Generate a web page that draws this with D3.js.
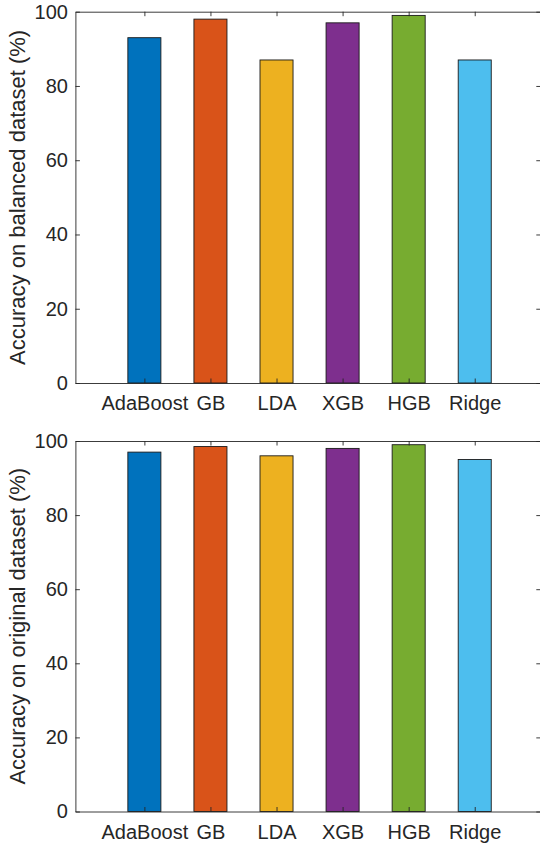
<!DOCTYPE html>
<html>
<head>
<meta charset="utf-8">
<script src="https://cdn.jsdelivr.net/npm/d3@7"></script>
<style>
  html, body { margin: 0; padding: 0; background: #fff; }
  svg { display: block; }
  text { font-family: "Liberation Sans", Arial, Helvetica, sans-serif; fill: #262626; }
</style>
</head>
<body>
<svg id="chart" width="540" height="846"></svg>
<script>
// Classifier names along the x axis
const models = ["AdaBoost", "GB", "LDA", "XGB", "HGB", "Ridge"];
// Accuracy (%) on the balanced dataset
const balancedAcc = [93, 98, 87, 97, 99, 87];
// Accuracy (%) on the original dataset
const originalAcc = [97, 98.5, 96, 98, 99, 95];
// Y tick values
const yTicks = [0, 20, 40, 60, 80, 100];
// Bar fill colours
const barColors = ["#0072BD", "#D95319", "#EDB120", "#7E2F8E", "#77AC30", "#4DBEEE"];

const svg = d3.select("#chart");
const axisColor = "#262626";

function panel(values, yLabel, top, bottom) {
  const left = 75.4, right = 540.8;
  const x = d3.scaleLinear().domain([-0.044, 7]).range([left, right]);
  const y = d3.scaleLinear().domain([0, 100]).range([bottom, top]);
  const g = svg.append("g");
  const idx = models.map((_, i) => i + 1);
  const bw = (x(1) - x(0)) * 0.5;

  // bars
  g.selectAll("rect.bar").data(values).join("rect")
    .attr("class", "bar")
    .attr("x", (d, i) => x(i + 1) - bw / 2)
    .attr("width", bw)
    .attr("y", d => y(d))
    .attr("height", d => y(0) - y(d))
    .attr("fill", (d, i) => barColors[i])
    .attr("stroke", "#1a1a1a")
    .attr("stroke-width", 0.9);

  // left axis (ticks inward)
  const yAxis = d3.axisLeft(y).tickValues(yTicks).tickSizeInner(-4.5).tickSizeOuter(0).tickPadding(7.5);
  const ya = g.append("g").attr("transform", `translate(${left},0)`).call(yAxis);
  ya.selectAll("text").style("font-size", "20px").attr("fill", axisColor);

  // bottom axis (ticks inward)
  const xAxis = d3.axisBottom(x).tickValues(idx).tickFormat(i => models[i - 1])
    .tickSizeInner(-4.5).tickSizeOuter(0).tickPadding(13);
  const xa = g.append("g").attr("transform", `translate(0,${bottom})`).call(xAxis);
  xa.selectAll("text").style("font-size", "20px").attr("fill", axisColor);

  // top and right box edges with mirrored ticks
  const ta = g.append("g").attr("transform", `translate(0,${top})`)
    .call(d3.axisTop(x).tickValues(idx).tickSizeInner(-4.5).tickSizeOuter(0).tickFormat(""));
  const ra = g.append("g").attr("transform", `translate(${right},0)`)
    .call(d3.axisRight(y).tickValues(yTicks).tickSizeInner(-4.5).tickSizeOuter(0).tickFormat(""));

  [ya, xa, ta, ra].forEach(a => {
    a.select(".domain").attr("stroke", axisColor).attr("stroke-width", 0.9);
    a.selectAll(".tick line").attr("stroke", axisColor).attr("stroke-width", 0.9);
  });

  // y axis title
  g.append("text")
    .attr("transform", `translate(25,${(top + bottom) / 2}) rotate(-90)`)
    .attr("text-anchor", "middle")
    .style("font-size", "22px")
    .text(yLabel);
}

panel(balancedAcc, "Accuracy on balanced dataset (%)", 11.7, 383);
panel(originalAcc, "Accuracy on original dataset (%)", 441, 811.5);
</script>
</body>
</html>
